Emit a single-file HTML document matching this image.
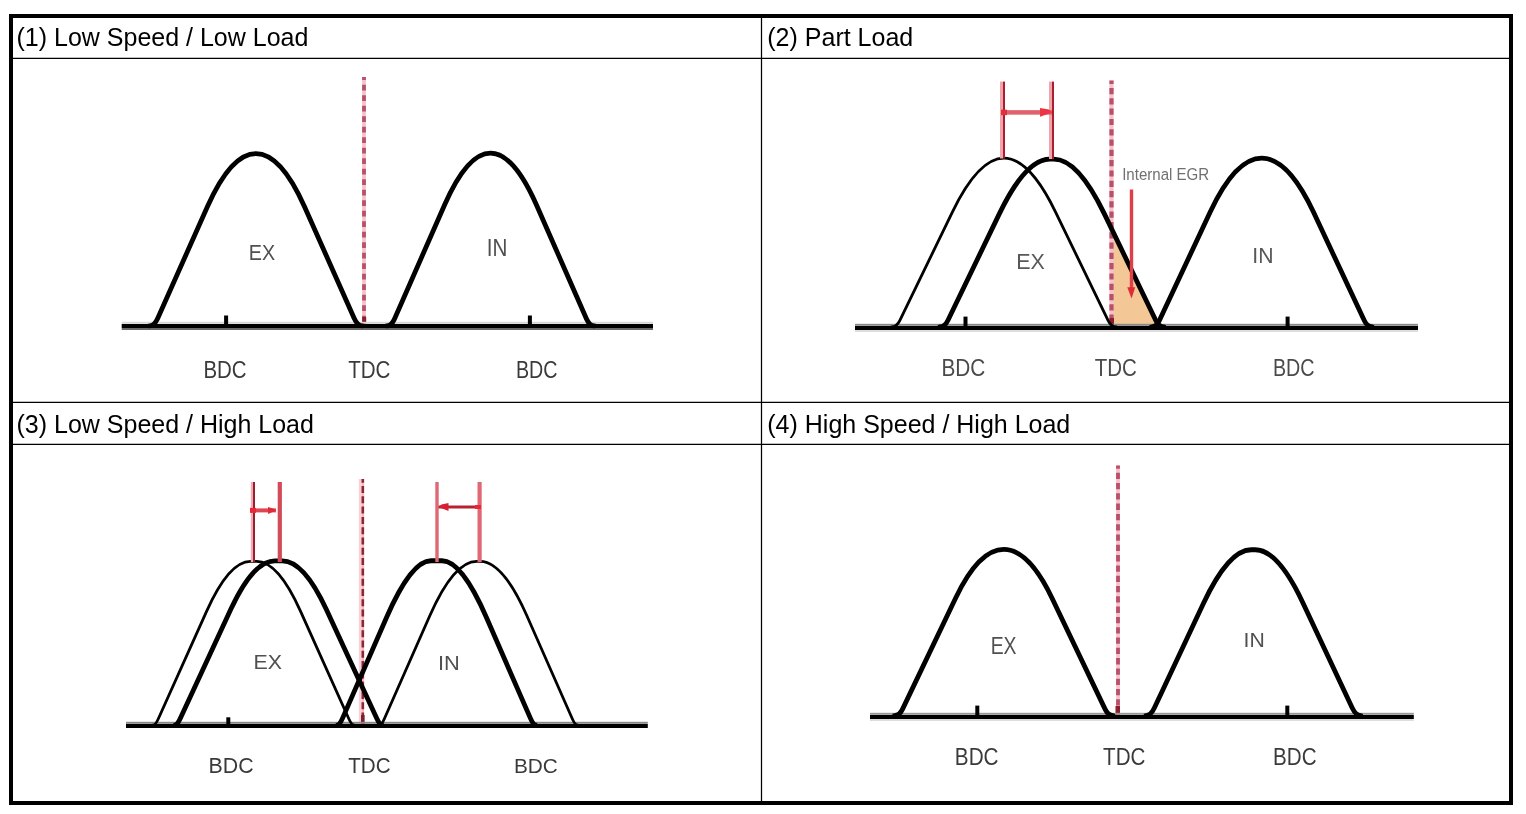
<!DOCTYPE html>
<html><head><meta charset="utf-8"><title>Valve timing</title>
<style>
html,body{margin:0;padding:0;background:#fff;}
body{width:1526px;height:814px;overflow:hidden;position:relative;}
svg{position:absolute;left:0;top:0;will-change:transform;}
text{font-family:"Liberation Sans",Arial,Helvetica,sans-serif;}
</style></head><body>
<svg width="1526" height="814" viewBox="0 0 1526 814">
<rect x="0" y="0" width="1526" height="814" fill="#fff"/>
<g stroke="#000" stroke-width="1.25" fill="none">
<line x1="12" y1="58.4" x2="1510" y2="58.4"/>
<line x1="12" y1="402.4" x2="1510" y2="402.4"/>
<line x1="12" y1="444.3" x2="1510" y2="444.3"/>
<line x1="761.5" y1="17" x2="761.5" y2="801"/>
</g>
<rect x="11" y="16" width="1500" height="787" fill="none" stroke="#000" stroke-width="4"/>
<g font-size="25" fill="#000">
<text x="16.5" y="45.8">(1) Low Speed / Low Load</text>
<text x="767.3" y="45.8">(2) Part Load</text>
<text x="16.5" y="433">(3) Low Speed / High Load</text>
<text x="767.3" y="433">(4) High Speed / High Load</text>
</g>
<rect x="362.10" y="77.0" width="3.80" height="248.0" fill="#f5c2cc"/><line x1="364.00" y1="77.0" x2="364.00" y2="325.0" stroke="#b9506a" stroke-width="3.80" stroke-dasharray="5.6 4.9" stroke-dashoffset="2.7"/>
<rect x="362.2" y="317" width="4" height="7" fill="#8c1d2c"/>
<rect x="121.7" y="324.0" width="531.3" height="4" fill="#000"/><rect x="121.7" y="321.8" width="531.3" height="2" fill="#d8d8d8"/><rect x="121.7" y="328.0" width="531.3" height="2" fill="#6a6a6a"/>
<rect x="224.1" y="315.5" width="4.0" height="9.5" fill="#000"/>
<rect x="527.9" y="315.5" width="4.0" height="9.5" fill="#000"/>
<path d="M149.32,325.90 Q154.32,325.90 157.76,318.18 L207.48,206.48 Q231.04,153.55 255.96,153.55 L255.96,153.55 L255.96,153.55 Q280.87,153.55 304.43,206.48 L354.15,318.18 Q357.59,325.90 362.59,325.90" fill="none" stroke="#000" stroke-width="4.80" stroke-linejoin="round" stroke-linecap="round"/>
<path d="M386.41,325.90 Q391.41,325.90 394.49,318.91 L444.54,205.04 Q467.34,153.18 490.51,153.18 L490.51,153.18 L490.51,153.18 Q513.69,153.18 536.49,205.04 L586.54,318.91 Q589.61,325.90 594.61,325.90" fill="none" stroke="#000" stroke-width="4.80" stroke-linejoin="round" stroke-linecap="round"/>
<text transform="translate(248.82,260.00) scale(0.879,1)" font-size="22.48" fill="#505050">EX</text>
<text transform="translate(486.75,256.00) scale(0.856,1)" font-size="24.09" fill="#505050">IN</text>
<text transform="translate(203.46,378.20) scale(0.863,1)" font-size="23.71" fill="#3a3a3a">BDC</text>
<text transform="translate(348.19,378.20) scale(0.862,1)" font-size="23.86" fill="#3a3a3a">TDC</text>
<text transform="translate(515.92,378.10) scale(0.831,1)" font-size="23.71" fill="#3a3a3a">BDC</text>
<polygon points="1112,327.0 1112,230.10 1112.21,230.10 1113.08,231.91 1113.95,233.71 1114.82,235.51 1115.69,237.32 1116.56,239.12 1117.43,240.92 1118.30,242.72 1119.17,244.53 1120.04,246.33 1120.91,248.13 1121.77,249.94 1122.64,251.74 1123.51,253.54 1124.38,255.34 1125.25,257.15 1126.12,258.95 1126.99,260.75 1127.86,262.56 1128.73,264.36 1129.60,266.16 1130.47,267.96 1131.34,269.77 1132.21,271.57 1133.08,273.37 1133.95,275.18 1134.82,276.98 1135.69,278.78 1136.56,280.58 1137.43,282.39 1138.30,284.19 1139.17,285.99 1140.04,287.80 1140.91,289.60 1141.78,291.40 1142.65,293.20 1143.52,295.01 1144.39,296.81 1145.26,298.61 1146.13,300.42 1147.00,302.22 1147.87,304.02 1148.74,305.82 1149.61,307.63 1150.48,309.43 1151.35,311.23 1152.22,313.03 1153.09,314.84 1153.96,316.64 1154.83,318.44 1155.70,320.25 1155.70,320.25 1155.81,320.47 1155.92,320.70 1156.03,320.92 1156.15,321.13 1156.26,321.34 1156.38,321.55 1156.49,321.75 1156.61,321.95 1156.73,322.15 1156.85,322.34 1156.97,322.53 1157.09,322.71 1157.22,322.89 1157.34,323.07 1157.47,323.24 1157.59,323.41 1157.72,323.58 1157.85,323.74 1157.98,323.90 1158.11,324.05 1158.24,324.20 1158.37,324.34 1158.50,324.49 1158.63,324.62 1158.77,324.76 1158.91,324.89 1159.04,325.01 1159.18,325.14 1159.32,325.25 1159.46,325.37 1159.60,325.48 1159.74,325.59 1159.89,325.69 1160.03,325.79 1160.17,325.88 1160.32,325.97 1160.47,326.06 1160.62,326.14 1160.76,326.22 1160.91,326.30 1161.07,326.37 1161.22,326.44 1161.37,326.50 1161.52,326.56 1161.68,326.62 1161.84,326.67 1161.99,326.72 1162.15,326.77 1162.31,326.81 1162.47,326.84 1162.63,326.88 1162.79,326.90 1162.96,326.93 1163.12,326.95 1163.28,326.97 1163.45,326.98 1163.62,326.99 1163.79,327.00 1163.95,327.00" fill="#f4c796"/>
<rect x="1109.40" y="80.5" width="4.20" height="246.5" fill="#f5c2cc"/><line x1="1111.50" y1="80.5" x2="1111.50" y2="327.0" stroke="#b9506a" stroke-width="4.20" stroke-dasharray="6.2 4.1" stroke-dashoffset="2.8"/>
<rect x="1109.5" y="318" width="4.5" height="8" fill="#8c1d2c"/>
<rect x="855.0" y="326.0" width="563.0" height="4" fill="#000"/><rect x="855.0" y="323.8" width="563.0" height="2" fill="#8a8a8a"/><rect x="855.0" y="330.0" width="563.0" height="2" fill="#dddddd"/>
<rect x="963.5" y="316.6" width="4.0" height="10.4" fill="#000"/>
<rect x="1285.6" y="316.6" width="4.0" height="10.4" fill="#000"/>
<path d="M891.72,327.00 Q896.72,327.00 899.76,320.72 L952.36,212.03 Q978.45,158.12 1003.97,158.12 L1003.97,158.12 L1003.97,158.12 Q1029.49,158.12 1055.58,212.03 L1108.18,320.72 Q1111.23,327.00 1116.23,327.00" fill="none" stroke="#000" stroke-width="2.80" stroke-linejoin="round" stroke-linecap="round"/>
<path d="M939.72,327.00 Q944.72,327.00 947.98,320.25 L999.29,213.88 Q1025.72,159.10 1049.80,159.10 L1051.84,159.10 L1053.88,159.10 Q1077.95,159.10 1104.38,213.88 L1155.70,320.25 Q1158.95,327.00 1163.95,327.00" fill="none" stroke="#000" stroke-width="4.80" stroke-linejoin="round" stroke-linecap="round"/>
<path d="M1151.40,326.80 Q1156.40,326.80 1159.36,320.49 L1210.31,211.83 Q1235.47,158.16 1261.82,158.16 L1261.82,158.16 L1261.82,158.16 Q1288.17,158.16 1313.34,211.83 L1364.28,320.49 Q1367.24,326.80 1372.24,326.80" fill="none" stroke="#000" stroke-width="4.80" stroke-linejoin="round" stroke-linecap="round"/>
<rect x="1000.00" y="81.6" width="3.00" height="76.9" fill="#f2a3ab"/><rect x="1003.00" y="81.6" width="2.00" height="76.9" fill="#a8202e"/>
<rect x="1049.00" y="81.6" width="3.00" height="77.4" fill="#f2a3ab"/><rect x="1052.00" y="81.6" width="2.00" height="77.4" fill="#a8202e"/>
<rect x="1004.0" y="110.15" width="48.0" height="4.50" fill="#e0606c"/><path d="M1040.0,108.10 L1049.0,109.60 L1052.0,112.40 L1040.0,116.70 Z" fill="#ec3442"/><rect x="1001.0" y="109.65" width="6" height="5.50" fill="#e0303c"/>
<rect x="1129.8" y="189.5" width="3.4" height="100" fill="#e23e48"/>
<path d="M1127.3,287.3 L1135.3,287.3 L1131.5,298.4 Z" fill="#e02a36"/>
<text transform="translate(1122.14,180.40) scale(0.912,1)" font-size="16.53" fill="#707070">Internal EGR</text>
<text transform="translate(1016.28,269.00) scale(0.968,1)" font-size="22.19" fill="#585858">EX</text>
<text transform="translate(1252.29,263.30) scale(0.932,1)" font-size="22.77" fill="#585858">IN</text>
<text transform="translate(941.44,375.60) scale(0.899,1)" font-size="23.14" fill="#4a4a4a">BDC</text>
<text transform="translate(1094.69,375.60) scale(0.886,1)" font-size="23.14" fill="#4a4a4a">TDC</text>
<text transform="translate(1272.92,376.00) scale(0.836,1)" font-size="23.57" fill="#4a4a4a">BDC</text>
<rect x="358.8" y="479" width="2.6" height="245" fill="#f9d2d8"/>
<rect x="361.50" y="479.0" width="2.60" height="246.0" fill="#f3b9c1"/><line x1="362.80" y1="479.0" x2="362.80" y2="725.0" stroke="#8e2637" stroke-width="2.60" stroke-dasharray="7 3.3" stroke-dashoffset="3.3"/>
<rect x="361" y="715" width="3.6" height="9" fill="#7e1f2c"/>
<rect x="126.0" y="724.0" width="521.8" height="4" fill="#000"/><rect x="126.0" y="721.8" width="521.8" height="2" fill="#888888"/>
<rect x="226.3" y="717.3" width="4.0" height="7.7" fill="#000"/>
<path d="M153.63,724.80 Q155.63,724.80 158.69,717.97 L206.57,611.32 Q229.00,561.35 250.47,561.35 L253.58,561.35 L256.68,561.35 Q278.15,561.35 300.58,611.32 L348.46,717.97 Q351.53,724.80 353.53,724.80" fill="none" stroke="#000" stroke-width="2.80" stroke-linejoin="round" stroke-linecap="round"/>
<path d="M175.29,724.80 Q177.29,724.80 180.37,718.15 L230.92,609.06 Q253.27,560.82 274.81,560.82 L278.53,560.82 L282.25,560.82 Q303.79,560.82 326.14,609.06 L376.69,718.15 Q379.77,724.80 381.77,724.80" fill="none" stroke="#000" stroke-width="4.80" stroke-linejoin="round" stroke-linecap="round"/>
<path d="M337.70,724.80 Q339.70,724.80 342.50,718.40 L386.53,617.45 Q411.27,560.75 430.93,560.75 L436.48,560.75 L442.04,560.75 Q461.70,560.75 486.44,617.45 L530.47,718.40 Q533.26,724.80 535.26,724.80" fill="none" stroke="#000" stroke-width="4.80" stroke-linejoin="round" stroke-linecap="round"/>
<path d="M379.68,724.80 Q381.68,724.80 384.26,718.94 L429.90,615.47 Q453.80,561.29 476.69,561.29 L478.34,561.29 L479.98,561.29 Q502.87,561.29 526.77,615.47 L572.41,718.94 Q575.00,724.80 577.00,724.80" fill="none" stroke="#000" stroke-width="2.80" stroke-linejoin="round" stroke-linecap="round"/>
<rect x="250.80" y="482.0" width="2.20" height="80.0" fill="#f4aab2"/><rect x="253.00" y="482.0" width="2.00" height="80.0" fill="#9a1f2e"/>
<rect x="277.70" y="482.0" width="4.20" height="80.0" fill="#d44a5a"/>
<rect x="253.0" y="508.40" width="23.0" height="4.00" fill="#e04452"/><path d="M268.0,506.90 L273.0,508.40 L276.0,510.40 L268.0,513.90 Z" fill="#e2283a"/><rect x="250.0" y="507.90" width="6" height="5.00" fill="#e8283a"/>
<rect x="435.30" y="482.0" width="3.40" height="80.0" fill="#e06874"/>
<rect x="477.50" y="482.0" width="4.20" height="80.0" fill="#e06874"/>
<rect x="438.5" y="505.50" width="39.5" height="3.00" fill="#b8222f"/><path d="M448.5,503.00 L441.5,504.50 L438.5,507.00 L448.5,511.00 Z" fill="#d42030"/><rect x="475.0" y="505.00" width="6" height="4.00" fill="#e8283a"/>
<text transform="translate(253.59,669.40) scale(1.054,1)" font-size="20.29" fill="#505050">EX</text>
<text transform="translate(438.04,670.00) scale(1.053,1)" font-size="20.73" fill="#505050">IN</text>
<text transform="translate(208.59,772.80) scale(0.953,1)" font-size="22.43" fill="#3a3a3a">BDC</text>
<text transform="translate(348.19,772.80) scale(0.921,1)" font-size="22.43" fill="#3a3a3a">TDC</text>
<text transform="translate(513.94,772.60) scale(1.012,1)" font-size="20.57" fill="#3a3a3a">BDC</text>
<rect x="1116.10" y="465.5" width="3.80" height="250.5" fill="#f5c2cc"/><line x1="1118.00" y1="465.5" x2="1118.00" y2="716.0" stroke="#b9506a" stroke-width="3.80" stroke-dasharray="6.3 4.0" stroke-dashoffset="3.1"/>
<rect x="1115.5" y="706" width="4.5" height="8.5" fill="#8c1d2c"/>
<rect x="870.0" y="715.0" width="543.8" height="4" fill="#000"/><rect x="870.0" y="712.8" width="543.8" height="2" fill="#999999"/><rect x="870.0" y="719.0" width="543.8" height="2" fill="#dddddd"/>
<rect x="975.3" y="705.6" width="4.0" height="10.4" fill="#000"/>
<rect x="1285.3" y="705.6" width="4.0" height="10.4" fill="#000"/>
<path d="M894.44,715.60 Q899.44,715.60 902.43,709.36 L955.54,598.22 Q978.86,549.43 1003.81,549.43 L1003.81,549.43 L1003.81,549.43 Q1028.77,549.43 1052.08,598.22 L1105.20,709.36 Q1108.19,715.60 1113.19,715.60" fill="none" stroke="#000" stroke-width="4.80" stroke-linejoin="round" stroke-linecap="round"/>
<path d="M1145.78,715.60 Q1150.78,715.60 1154.45,707.78 L1203.27,603.68 Q1228.57,549.73 1251.30,549.73 L1253.30,549.73 L1255.30,549.73 Q1278.02,549.73 1303.32,603.68 L1352.14,707.78 Q1355.81,715.60 1360.81,715.60" fill="none" stroke="#000" stroke-width="4.80" stroke-linejoin="round" stroke-linecap="round"/>
<text transform="translate(990.65,654.00) scale(0.797,1)" font-size="24.38" fill="#505050">EX</text>
<text transform="translate(1243.59,647.30) scale(1.024,1)" font-size="20.73" fill="#505050">IN</text>
<text transform="translate(954.84,765.40) scale(0.858,1)" font-size="24.14" fill="#3a3a3a">BDC</text>
<text transform="translate(1103.09,765.40) scale(0.854,1)" font-size="24.14" fill="#3a3a3a">TDC</text>
<text transform="translate(1273.05,765.30) scale(0.869,1)" font-size="23.71" fill="#3a3a3a">BDC</text>
</svg>
</body></html>
